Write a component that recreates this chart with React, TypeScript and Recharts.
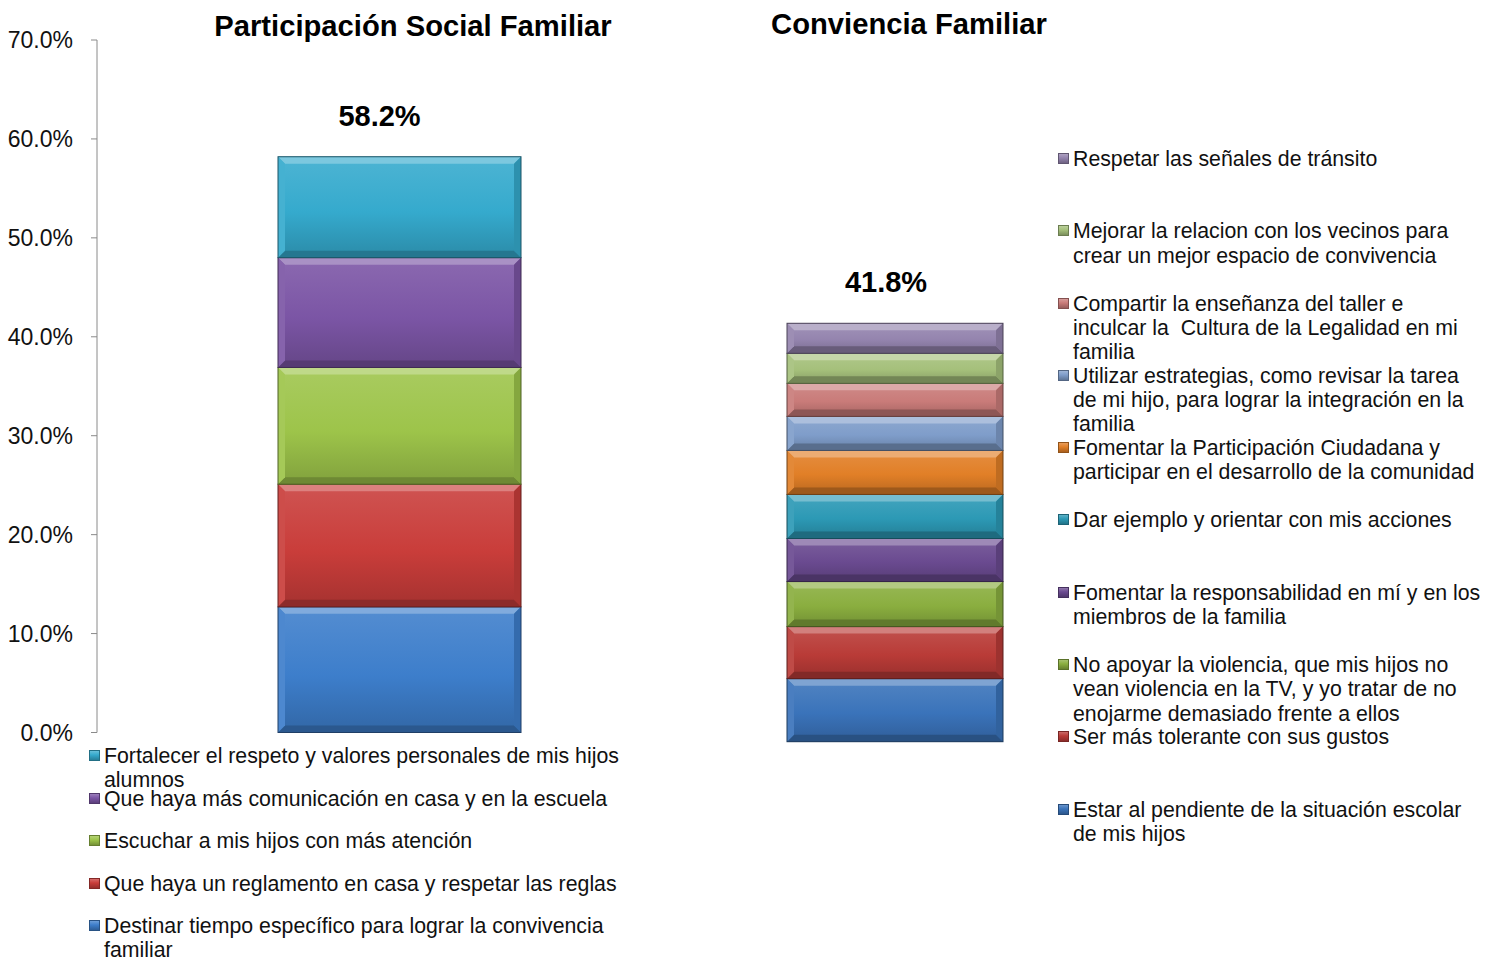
import { BarChart, Bar, XAxis, YAxis, Legend, LabelList } from "recharts";

// Participación Social Familiar (bottom -> top of the stack)
const SOCIAL_LABELS = [
  "Destinar tiempo específico para lograr la convivencia\nfamiliar",
  "Que haya un reglamento en casa y respetar las reglas",
  "Escuchar a mis hijos con más atención",
  "Que haya más comunicación en casa y en la escuela",
  "Fortalecer el respeto y valores personales de mis hijos\nalumnos",
];
const SOCIAL_VALUES = [12.7, 12.4, 11.8, 11.1, 10.2];
const SOCIAL_COLORS = ["#3d7ecb", "#c93d3a", "#9dc44a", "#7b55a5", "#35aacd"];

// Conviencia Familiar (bottom -> top of the stack)
const CONV_LABELS = [
  "Estar al pendiente de la situación escolar\nde mis hijos",
  "Ser más tolerante con sus gustos",
  "No apoyar la violencia, que mis hijos no\nvean violencia en la TV, y yo tratar de no\nenojarme demasiado frente a ellos",
  "Fomentar la responsabilidad en mí y en los\nmiembros de la familia",
  "Dar ejemplo y orientar con mis acciones",
  "Fomentar la Participación Ciudadana y\nparticipar en el desarrollo de la comunidad",
  "Utilizar estrategias, como revisar la tarea\nde mi hijo, para lograr la integración en la\nfamilia",
  "Compartir la enseñanza del taller e\ninculcar la  Cultura de la Legalidad en mi\nfamilia",
  "Mejorar la relacion con los vecinos para\ncrear un mejor espacio de convivencia",
  "Respetar las señales de tránsito",
];
const CONV_VALUES = [6.3, 5.2, 4.5, 4.3, 4.4, 4.4, 3.4, 3.3, 3.0, 3.0];
const CONV_COLORS = [
  "#3a73ba", "#b93b37", "#8aae3f", "#6a4a90", "#2c99b5",
  "#e17f27", "#7f9dca", "#c97b79", "#a5c07b", "#9484ae",
];

const Y_TICKS = [0, 10, 20, 30, 40, 50, 60, 70];

const FONT = '"Liberation Sans", Arial, Helvetica, sans-serif';

const shade = (hex: string, amt: number) => {
  const n = parseInt(hex.slice(1), 16);
  const ch = [(n >> 16) & 255, (n >> 8) & 255, n & 255].map((c) =>
    Math.round(amt >= 0 ? c + (255 - c) * amt : c * (1 + amt))
  );
  return `rgb(${ch[0]},${ch[1]},${ch[2]})`;
};

const makeRow = (name: string, values: number[]) => {
  const row: Record<string, string | number> = { name };
  values.forEach((v, i) => (row[`s${i}`] = v));
  return [row];
};

const GlossyShape = (prefix: string, color: string, i: number) => (props: any) => {
  const { x, y, width, height } = props;
  if (!height || height <= 0) return <g />;
  const b = Math.min(7, height / 4);
  return (
    <g>
      <rect x={x} y={y} width={width} height={height} fill={`url(#${prefix}${i})`} />
      <polygon
        points={`${x},${y} ${x + width},${y} ${x + width - b},${y + b} ${x + b},${y + b}`}
        fill={shade(color, 0.35)}
      />
      <polygon
        points={`${x},${y + height} ${x + width},${y + height} ${x + width - b},${y + height - b} ${x + b},${y + height - b}`}
        fill={shade(color, -0.3)}
      />
      <polygon
        points={`${x},${y} ${x + b},${y + b} ${x + b},${y + height - b} ${x},${y + height}`}
        fill={shade(color, 0.08)}
      />
      <polygon
        points={`${x + width},${y} ${x + width - b},${y + b} ${x + width - b},${y + height - b} ${x + width},${y + height}`}
        fill={shade(color, -0.15)}
      />
      <rect x={x} y={y} width={width} height={height} fill="none" stroke={shade(color, -0.5)} strokeWidth={1} />
    </g>
  );
};

const Gradients = ({ prefix, colors }: { prefix: string; colors: string[] }) => (
  <defs>
    {colors.map((c, i) => (
      <linearGradient key={i} id={`${prefix}${i}`} x1="0" y1="0" x2="0" y2="1">
        <stop offset="0%" stopColor={shade(c, 0.12)} />
        <stop offset="55%" stopColor={c} />
        <stop offset="100%" stopColor={shade(c, -0.18)} />
      </linearGradient>
    ))}
  </defs>
);

const LegendBox = ({
  labels,
  colors,
  slot,
}: {
  labels: string[];
  colors: string[];
  slot: number;
}) => (
  <div style={{ fontFamily: FONT, fontSize: 21.3, color: "#111" }}>
    {labels
      .map((label, i) => ({ label, color: colors[i] }))
      .reverse()
      .map((item) => (
        <div key={item.label} style={{ position: "relative", height: slot }}>
          <span
            style={{
              position: "absolute",
              left: 0,
              top: 6,
              width: 11,
              height: 11,
              background: `linear-gradient(${shade(item.color, 0.3)}, ${item.color} 45%, ${shade(item.color, -0.3)})`,
              boxShadow: `inset 0 0 0 1px ${shade(item.color, -0.35)}`,
            }}
          />
          <div
            style={{
              position: "absolute",
              left: 15,
              top: 0,
              whiteSpace: "pre",
              lineHeight: "24.3px",
            }}
          >
            {item.label}
          </div>
        </div>
      ))}
  </div>
);

const totalLabel = (total: number, dx: number, dy: number) => (props: any) => {
  const { x, y, width } = props;
  return (
    <text
      x={x + width / 2 + dx}
      y={y + dy}
      textAnchor="middle"
      dominantBaseline="central"
      style={{ fontFamily: FONT, fontSize: 29, fontWeight: 700 }}
      fill="#000"
    >
      {`${total.toFixed(1)}%`}
    </text>
  );
};

const Title = ({ text, cx, cy }: { text: string; cx: number; cy: number }) => (
  <div
    style={{
      position: "absolute",
      left: cx - 300,
      width: 600,
      top: cy - 17,
      height: 34,
      lineHeight: "34px",
      textAlign: "center",
      fontFamily: FONT,
      fontWeight: 700,
      fontSize: 29.2,
      color: "#000",
    }}
  >
    {text}
  </div>
);

export default function App() {
  const socialData = makeRow("Participación Social Familiar", SOCIAL_VALUES);
  const convData = makeRow("Conviencia Familiar", CONV_VALUES);
  const socialTotal = SOCIAL_VALUES.reduce((a, b) => a + b, 0);
  const convTotal = CONV_VALUES.reduce((a, b) => a + b, 0);

  return (
    <div
      style={{
        position: "absolute",
        left: 0,
        top: 0,
        width: 1496,
        height: 957,
        background: "#fff",
        overflow: "hidden",
      }}
    >
      <div style={{ position: "absolute", left: 0, top: 0 }}>
        <BarChart
          width={710}
          height={957}
          data={socialData}
          margin={{ top: 40, right: 8, bottom: 224.5, left: 0 }}
          barSize={243}
        >
          <Gradients prefix="sg" colors={SOCIAL_COLORS} />
          <XAxis dataKey="name" hide />
          <YAxis
            width={97}
            domain={[0, 70]}
            ticks={Y_TICKS}
            interval={0}
            tickFormatter={(v: number) => `${v.toFixed(1)}%`}
            axisLine={{ stroke: "#8a8a8a" }}
            tickLine={{ stroke: "#8a8a8a" }}
            tickSize={6}
            tickMargin={18}
            tick={{ fill: "#111", fontSize: 23, fontFamily: FONT }}
          />
          {SOCIAL_VALUES.map((_, i) => (
            <Bar
              key={i}
              dataKey={`s${i}`}
              stackId="a"
              fill={SOCIAL_COLORS[i]}
              shape={GlossyShape("sg", SOCIAL_COLORS[i], i)}
              isAnimationActive={false}
            >
              {i === SOCIAL_VALUES.length - 1 && (
                <LabelList content={totalLabel(socialTotal, -20, -41)} />
              )}
            </Bar>
          ))}
          <Legend
            layout="vertical"
            align="center"
            verticalAlign="middle"
            wrapperStyle={{ left: 89, top: 744, width: 560 }}
            content={() => (
              <LegendBox labels={SOCIAL_LABELS} colors={SOCIAL_COLORS} slot={42.5} />
            )}
          />
        </BarChart>
      </div>

      <div style={{ position: "absolute", left: 700, top: 0 }}>
        <BarChart
          width={796}
          height={957}
          data={convData}
          margin={{ top: 41, right: 406, bottom: 215.3, left: 0 }}
          barSize={216}
        >
          <Gradients prefix="cg" colors={CONV_COLORS} />
          <XAxis dataKey="name" hide />
          <YAxis hide domain={[0, 70]} />
          {CONV_VALUES.map((_, i) => (
            <Bar
              key={i}
              dataKey={`s${i}`}
              stackId="b"
              fill={CONV_COLORS[i]}
              shape={GlossyShape("cg", CONV_COLORS[i], i)}
              isAnimationActive={false}
            >
              {i === CONV_VALUES.length - 1 && (
                <LabelList content={totalLabel(convTotal, -9, -41)} />
              )}
            </Bar>
          ))}
          <Legend
            layout="vertical"
            align="center"
            verticalAlign="middle"
            wrapperStyle={{ left: 358, top: 147, width: 438 }}
            content={() => (
              <LegendBox labels={CONV_LABELS} colors={CONV_COLORS} slot={72.3} />
            )}
          />
        </BarChart>
      </div>

      <Title text="Participación Social Familiar" cx={413} cy={26} />
      <Title text="Conviencia Familiar" cx={909} cy={24} />
    </div>
  );
}
